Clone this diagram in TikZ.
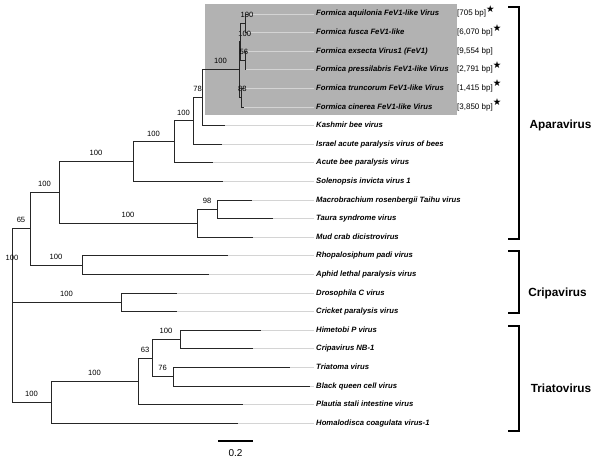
\documentclass[tikz,border=0pt]{standalone}
\usepackage{fontspec}
\setmainfont{Liberation Sans}
\newfontfamily\dejavu{DejaVu Sans}
\newcommand{\bpstar}{\raisebox{3.5pt}{\fontsize{9.5}{10}\dejavu ★}}

\begin{document}
\begin{tikzpicture}[
    x=1pt, y=-1pt,
    branch/.style = {draw=black!85, line width=1pt},
    leader/.style = {draw=black!17, line width=0.8pt},
    bs/.style     = {font=\fontsize{7.6}{9}\selectfont, above=4.3pt, inner sep=1pt},
    taxon/.style  = {font=\fontsize{7.7}{9}\selectfont\bfseries\itshape, anchor=west,
                     inner sep=2pt, text height=5.5pt, text depth=1.5pt},
    bp/.style     = {font=\fontsize{8}{9}\selectfont, anchor=west,
                     inner sep=2pt, text height=5.5pt, text depth=1.5pt},
    clade/.style  = {draw=black, line width=1.8pt},
    cname/.style  = {font=\fontsize{11.8}{13}\selectfont\bfseries}
  ]
  \useasboundingbox (0,0) rectangle (600,463);

  % --- highlighted Formica group ---
  \fill[black!30] (205,4) rectangle (457,115);

  % --- tips ---
  \coordinate (t-aqu) at (248,14);
  \coordinate (t-fus) at (247,32.6);
  \coordinate (t-exs) at (246.5,51.2);
  \coordinate (t-pre) at (246,69.8);
  \coordinate (t-tru) at (244,88.4);
  \coordinate (t-cin) at (243.5,107);
  \coordinate (t-kas) at (225,125.6);
  \coordinate (t-isr) at (222,144.2);
  \coordinate (t-abp) at (213,162.8);
  \coordinate (t-sol) at (223,181.4);
  \coordinate (t-mac) at (252,200);
  \coordinate (t-tau) at (273,218.6);
  \coordinate (t-mud) at (253,237.2);
  \coordinate (t-rho) at (228,255.8);
  \coordinate (t-aph) at (209,274.4);
  \coordinate (t-dro) at (177,293);
  \coordinate (t-cri) at (177,311.6);
  \coordinate (t-him) at (261,330.2);
  \coordinate (t-nb1) at (253,348.8);
  \coordinate (t-tri) at (290,367.4);
  \coordinate (t-bqc) at (310,386);
  \coordinate (t-pla) at (243,404.6);
  \coordinate (t-hom) at (238,423.2);

  % --- inner nodes ---
  \coordinate (root) at (12,302.3);
  \coordinate (n65)  at (30,228.8);
  \coordinate (n59)  at (59,192.4);
  \coordinate (nRA)  at (82,265.1);
  \coordinate (n133) at (133,161.6);
  \coordinate (n174) at (174,141.9);
  \coordinate (n193) at (193,120.95);
  \coordinate (n78)  at (202,97.7);
  \coordinate (nF)   at (239,69.8);
  \coordinate (nP)   at (240.5,41.9);
  \coordinate (nR)   at (245.5,23.3);
  \coordinate (nS)   at (245,60.5);
  \coordinate (nQ)   at (241.5,97.7);
  \coordinate (n197) at (197,223.3);
  \coordinate (n98)  at (217,209.3);
  \coordinate (nDC)  at (121,302.3);
  \coordinate (n51)  at (51,402.3);
  \coordinate (n138) at (138,381.35);
  \coordinate (n63)  at (152,358.1);
  \coordinate (nHN)  at (180,339.5);
  \coordinate (n76)  at (173,376.7);

  % --- taxon labels ---
  \node[taxon] (l-aqu) at (314,14)    {Formica aquilonia FeV1-like Virus};
  \node[taxon] (l-fus) at (314,32.6)  {Formica fusca FeV1-like};
  \node[taxon] (l-exs) at (314,51.2)  {Formica exsecta Virus1 (FeV1)};
  \node[taxon] (l-pre) at (314,69.8)  {Formica pressilabris FeV1-like Virus};
  \node[taxon] (l-tru) at (314,88.4)  {Formica truncorum FeV1-like Virus};
  \node[taxon] (l-cin) at (314,107)   {Formica cinerea FeV1-like Virus};
  \node[taxon] (l-kas) at (314,125.6) {Kashmir bee virus};
  \node[taxon] (l-isr) at (314,144.2) {Israel acute paralysis virus of bees};
  \node[taxon] (l-abp) at (314,162.8) {Acute bee paralysis virus};
  \node[taxon] (l-sol) at (314,181.4) {Solenopsis invicta virus 1};
  \node[taxon] (l-mac) at (314,200)   {Macrobrachium rosenbergii Taihu virus};
  \node[taxon] (l-tau) at (314,218.6) {Taura syndrome virus};
  \node[taxon] (l-mud) at (314,237.2) {Mud crab dicistrovirus};
  \node[taxon] (l-rho) at (314,255.8) {Rhopalosiphum padi virus};
  \node[taxon] (l-aph) at (314,274.4) {Aphid lethal paralysis virus};
  \node[taxon] (l-dro) at (314,293)   {Drosophila C virus};
  \node[taxon] (l-cri) at (314,311.6) {Cricket paralysis virus};
  \node[taxon] (l-him) at (314,330.2) {Himetobi P virus};
  \node[taxon] (l-nb1) at (314,348.8) {Cripavirus NB-1};
  \node[taxon] (l-tri) at (314,367.4) {Triatoma virus};
  \node[taxon] (l-bqc) at (314,386)   {Black queen cell virus};
  \node[taxon] (l-pla) at (314,404.6) {Plautia stali intestine virus};
  \node[taxon] (l-hom) at (314,423.2) {Homalodisca coagulata virus-1};

  % --- genome lengths ---
  \node[bp] (bp-aqu) at (455,14)   {[705 bp]\bpstar};
  \node[bp] (bp-fus) at (455,32.6) {[6,070 bp]\bpstar};
  \node[bp] (bp-exs) at (455,51.2) {[9,554 bp]};
  \node[bp] (bp-pre) at (455,69.8) {[2,791 bp]\bpstar};
  \node[bp] (bp-tru) at (455,88.4) {[1,415 bp]\bpstar};
  \node[bp] (bp-cin) at (455,107)  {[3,850 bp]\bpstar};

  % --- leader lines ---
  \foreach \t in {aqu,fus,exs,pre,tru,cin,kas,isr,abp,sol,mac,tau,mud,
                  rho,aph,dro,cri,him,nb1,tri,bqc,pla,hom}
    \draw[leader] (t-\t) -- (l-\t.west);

  % --- Aparavirus ---
  \draw[branch] (root) |- node[bs,pos=0.75]{65} (n65);
  \draw[branch] (n65)  |- node[bs,pos=0.75]{100} (n59);
  \draw[branch] (n59)  |- node[bs,pos=0.75]{100} (n133);
  \draw[branch] (n133) |- node[bs,pos=0.75]{100} (n174);
  \draw[branch] (n133) |- (t-sol);
  \draw[branch] (n174) |- node[bs,pos=0.75]{100} (n193);
  \draw[branch] (n174) |- (t-abp);
  \draw[branch] (n193) |- node[bs,pos=0.75]{78} (n78);
  \draw[branch] (n193) |- (t-isr);
  \draw[branch] (n78)  |- node[bs,pos=0.75]{100} (nF);
  \draw[branch] (n78)  |- (t-kas);
  \draw[branch] (nF)   |- node[bs,pos=0.75,xshift=5pt]{100} (nP);
  \draw[branch] (nF)   |- node[bs,pos=0.75,xshift=2pt]{88} (nQ);
  \draw[branch] (nP)   |- node[bs,pos=0.75,xshift=4pt]{100} (nR);
  \draw[branch] (nP)   |- node[bs,pos=0.75,xshift=1pt]{56} (nS);
  \draw[branch] (nR)   |- (t-aqu);
  \draw[branch] (nR)   |- (t-fus);
  \draw[branch] (nS)   |- (t-exs);
  \draw[branch] (nS)   |- (t-pre);
  \draw[branch] (nQ)   |- (t-tru);
  \draw[branch] (nQ)   |- (t-cin);
  \draw[branch] (n59)  |- node[bs,pos=0.75]{100} (n197);
  \draw[branch] (n197) |- node[bs,pos=0.75]{98} (n98);
  \draw[branch] (n197) |- (t-mud);
  \draw[branch] (n98)  |- (t-mac);
  \draw[branch] (n98)  |- (t-tau);

  % --- Cripavirus ---
  \draw[branch] (n65)  |- node[bs,pos=0.75]{100} (nRA);
  \draw[branch] (nRA)  |- (t-rho);
  \draw[branch] (nRA)  |- (t-aph);
  \draw[branch] (root) |- node[bs,pos=0.75]{100} (nDC);
  \draw[branch] (nDC)  |- (t-dro);
  \draw[branch] (nDC)  |- (t-cri);

  % --- Triatovirus ---
  \draw[branch] (root) |- node[bs,pos=0.75]{100} (n51);
  \draw[branch] (n51)  |- node[bs,pos=0.75]{100} (n138);
  \draw[branch] (n51)  |- (t-hom);
  \draw[branch] (n138) |- node[bs,pos=0.75]{63} (n63);
  \draw[branch] (n138) |- (t-pla);
  \draw[branch] (n63)  |- node[bs,pos=0.75]{100} (nHN);
  \draw[branch] (n63)  |- node[bs,pos=0.75]{76} (n76);
  \draw[branch] (nHN)  |- (t-him);
  \draw[branch] (nHN)  |- (t-nb1);
  \draw[branch] (n76)  |- (t-tri);
  \draw[branch] (n76)  |- (t-bqc);

  % --- root support ---
  \node[font=\fontsize{7.6}{9}\selectfont, inner sep=1pt] (bs-root) at (12,258) {100};

  % --- clade brackets ---
  \coordinate (ap-t) at (508,7);   \coordinate (ap-b) at (508,239);
  \coordinate (cr-t) at (508,251); \coordinate (cr-b) at (508,313);
  \coordinate (tr-t) at (508,326); \coordinate (tr-b) at (508,431);
  \draw[clade] (ap-t) -- ++(11,0) |- (ap-b);
  \draw[clade] (cr-t) -- ++(11,0) |- (cr-b);
  \draw[clade] (tr-t) -- ++(11,0) |- (tr-b);
  \node[cname] (apara) at (560.5,125) {Aparavirus};
  \node[cname] (cripa) at (557.5,293) {Cripavirus};
  \node[cname] (triat) at (561,388)   {Triatovirus};

  % --- scale bar ---
  \coordinate (sb-l) at (218,441);
  \coordinate (sb-r) at (253,441);
  \draw[line width=1.8pt] (sb-l) -- (sb-r);
  \node[font=\fontsize{10}{11}\selectfont] (sb-lab) at (235.5,453) {0.2};

\end{tikzpicture}
\end{document}
